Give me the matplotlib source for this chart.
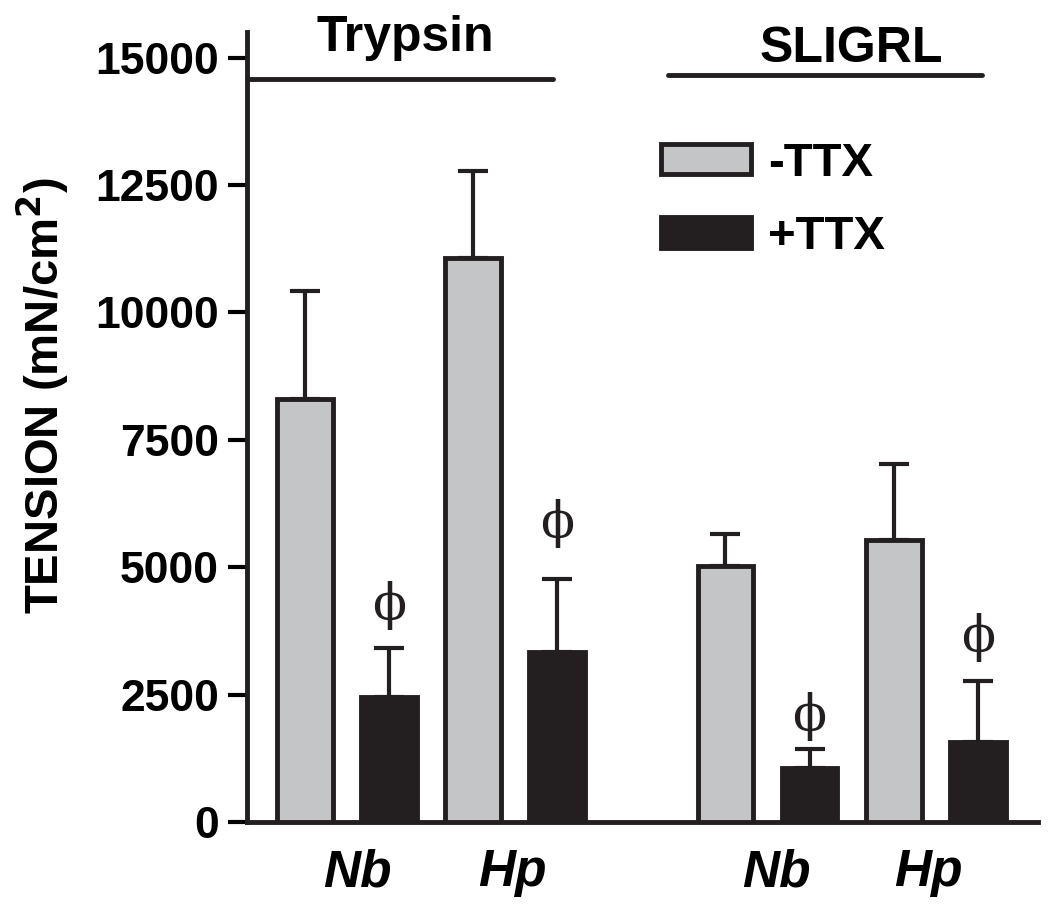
import numpy as np
import matplotlib
matplotlib.use("Agg")
import matplotlib.pyplot as plt

plt.rcParams['font.family'] = ['Liberation Sans', 'DejaVu Sans']
plt.rcParams['font.weight'] = 'bold'

# data (mN/cm^2)
groups = ["Trypsin", "SLIGRL"]
parasites = ["Nb", "Hp", "Nb", "Hp"]
minus_ttx = [8310, 11070, 5030, 5540]
minus_err = [2100, 1710, 630, 1490]
plus_ttx = [2450, 3340, 1060, 1570]
plus_err = [965, 1420, 375, 1200]
phi_y = [4260, 5870, 2080, 3630]  # height of the significance marks

pos_minus = np.array([0, 2, 5, 7])
pos_plus = pos_minus + 1
label_pos = [0.62, 2.47, 5.61, 7.41]

gray = "#c4c5c7"
black = "#231f20"

fig = plt.figure(figsize=(10.5, 9.09), dpi=100)
ax = fig.add_axes([0.235, 0.0957, 0.754, 0.869])

w = 0.66
ax.bar(pos_minus, minus_ttx, w, color=gray, edgecolor=black, linewidth=3.5,
       label="-TTX", zorder=3)
ax.bar(pos_plus, plus_ttx, w, color=black, edgecolor=black, linewidth=3.5,
       label="+TTX", zorder=3)
ax.errorbar(pos_minus, minus_ttx, yerr=[np.zeros(4), minus_err], fmt='none',
            ecolor=black, elinewidth=3, capsize=11, capthick=3, zorder=2)
ax.errorbar(pos_plus, plus_ttx, yerr=[np.zeros(4), plus_err], fmt='none',
            ecolor=black, elinewidth=3, capsize=11, capthick=3, zorder=2)

for x, y in zip(pos_plus, phi_y):
    ax.text(x, y, "\u03d5", family="DejaVu Serif", fontweight="normal",
            fontsize=36, ha="center", va="center", color=black)

# group bars and titles
ax.plot([-0.69, 2.95], [14570, 14570], color=black, lw=3.5,
        solid_capstyle="round", clip_on=False)
ax.plot([4.32, 8.05], [14650, 14650], color=black, lw=3.5,
        solid_capstyle="round", clip_on=False)
ax.text(1.19, 15120, groups[0], ha="center", va="baseline", fontsize=36)
ax.text(6.50, 14920, groups[1], ha="center", va="baseline", fontsize=36)

ax.set_xlim(-0.69, 8.72)
ax.set_ylim(0, 15500)
ax.set_yticks(np.arange(0, 15001, 2500))
ax.set_xticks(label_pos)
ax.set_xticklabels(parasites, fontsize=37, style="italic")
ax.tick_params(axis="x", length=0, pad=19)
ax.tick_params(axis="y", length=14, width=3, labelsize=32, pad=6)

for s in ["top", "right"]:
    ax.spines[s].set_visible(False)
for s in ["left", "bottom"]:
    ax.spines[s].set_linewidth(3.5)
    ax.spines[s].set_color(black)

ax.set_ylabel("TENSION (mN/cm$^\\mathbf{2}$)", fontsize=34, fontweight="bold")
ax.yaxis.set_label_coords(-0.222, 0.54)

ax.legend(loc="upper left", bbox_to_anchor=(0.5, 0.885), frameon=False,
          fontsize=34, handlelength=1.9, handleheight=0.62, handletextpad=0.35,
          labelspacing=0.62, borderaxespad=0)

fig.savefig("out.png", dpi=100)
